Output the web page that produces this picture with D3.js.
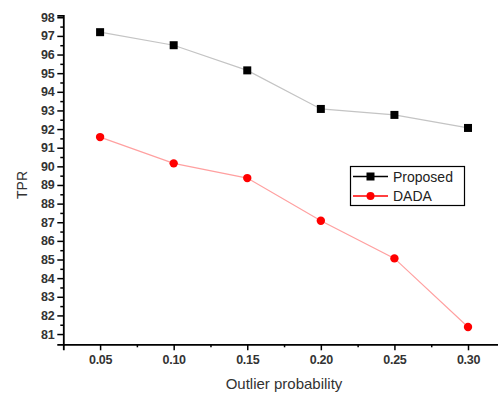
<!DOCTYPE html>
<html>
<head>
<meta charset="utf-8">
<script src="https://cdn.jsdelivr.net/npm/d3@7"></script>
<style>
  html, body { margin: 0; padding: 0; background: #fff; }
  svg { display: block; }
  text { font-family: "Liberation Sans", Arial, sans-serif; }
</style>
</head>
<body>
<svg id="chart" width="498" height="394"></svg>
<script>
// Outlier probability on the x axis
const probabilities = [0.05, 0.10, 0.15, 0.20, 0.25, 0.30];
// True positive rate (%) per method
const proposedTPR = [97.2, 96.5, 95.15, 93.08, 92.76, 92.06];
const dadaTPR = [91.57, 90.16, 89.37, 87.08, 85.06, 81.38];
const seriesNames = ["Proposed", "DADA"];
const xTickValues = [0.05, 0.10, 0.15, 0.20, 0.25, 0.30];
const yTickValues = d3.range(81, 99, 1);

const svg = d3.select("#chart");

const x = d3.scaleLinear().domain([0.025, 0.325]).range([63.3, 504.8]);
const y = d3.scaleLinear().domain([80.45, 98.1]).range([344.3, 15.4]);

const tickColor = "#222";
const labelColor = "#333";

// Y axis with minor ticks at half units
const yAxisG = svg.append("g").attr("transform", `translate(${x.range()[0]},0)`);
yAxisG.call(d3.axisLeft(y).tickValues(yTickValues).tickFormat(d3.format("d")).tickSize(6).tickPadding(3));
yAxisG.append("g").call(d3.axisLeft(y).tickValues(d3.range(81.5, 98, 1)).tickSize(3).tickFormat(""))
  .select(".domain").remove();

// X axis with minor ticks between labels
const xAxisG = svg.append("g").attr("transform", `translate(0,${y.range()[0]})`);
xAxisG.call(d3.axisBottom(x).tickValues(xTickValues).tickFormat(d3.format(".2f")).tickSize(6).tickPadding(5));
xAxisG.append("g").call(d3.axisBottom(x).tickValues([0.075, 0.125, 0.175, 0.225, 0.275, 0.325]).tickSize(3).tickFormat(""))
  .select(".domain").remove();

svg.selectAll(".domain").attr("stroke", "#000").attr("stroke-width", 1.8);
svg.selectAll(".tick line").attr("stroke", "#000").attr("stroke-width", 1.5);
svg.selectAll(".tick text")
  .attr("fill", labelColor)
  .style("font-size", "12.5px")
  .style("font-family", "'Liberation Sans', Arial, sans-serif")
  .style("font-weight", "bold")
  .style("letter-spacing", "-0.3px");

// Axis titles
svg.append("text")
  .attr("transform", "translate(27,185) rotate(-90)")
  .attr("text-anchor", "middle")
  .attr("fill", labelColor)
  .style("font-size", "14px")
  .text("TPR");

svg.append("text")
  .attr("x", 284).attr("y", 389)
  .attr("text-anchor", "middle")
  .attr("fill", labelColor)
  .style("font-size", "15px")
  .text("Outlier probability");

// Connecting lines
const line = d3.line().x((d, i) => x(probabilities[i])).y(d => y(d));

svg.append("path").datum(proposedTPR)
  .attr("d", line).attr("fill", "none").attr("stroke", "#c4c4c4").attr("stroke-width", 1.2);
svg.append("path").datum(dadaTPR)
  .attr("d", line).attr("fill", "none").attr("stroke", "#ffa0a0").attr("stroke-width", 1.2);

// Markers
const sq = 8;
svg.append("g").selectAll("rect").data(proposedTPR).join("rect")
  .attr("x", (d, i) => x(probabilities[i]) - sq / 2)
  .attr("y", d => y(d) - sq / 2)
  .attr("width", sq).attr("height", sq)
  .attr("fill", "#000");

svg.append("g").selectAll("circle").data(dadaTPR).join("circle")
  .attr("cx", (d, i) => x(probabilities[i]))
  .attr("cy", d => y(d))
  .attr("r", 4.2)
  .attr("fill", "#ff0000");

// Legend
const legend = svg.append("g");
legend.append("rect")
  .attr("x", 350.5).attr("y", 166.5).attr("width", 114).attr("height", 39)
  .attr("fill", "#fff").attr("stroke", "#000").attr("stroke-width", 1.2);

const legendRows = [
  { name: seriesNames[0], color: "#000", shape: "square", cy: 176.5 },
  { name: seriesNames[1], color: "#ff0000", shape: "circle", cy: 196 }
];
legendRows.forEach(r => {
  legend.append("line")
    .attr("x1", 353).attr("x2", 388).attr("y1", r.cy).attr("y2", r.cy)
    .attr("stroke", r.color).attr("stroke-width", 1.3);
  if (r.shape === "square") {
    legend.append("rect").attr("x", 370.5 - 4).attr("y", r.cy - 4).attr("width", 8).attr("height", 8).attr("fill", r.color);
  } else {
    legend.append("circle").attr("cx", 370.5).attr("cy", r.cy).attr("r", 4).attr("fill", r.color);
  }
  legend.append("text")
    .attr("x", 393).attr("y", r.cy + 5)
    .attr("fill", "#222")
    .style("font-size", "14px")
    .text(r.name);
});
</script>
</body>
</html>
